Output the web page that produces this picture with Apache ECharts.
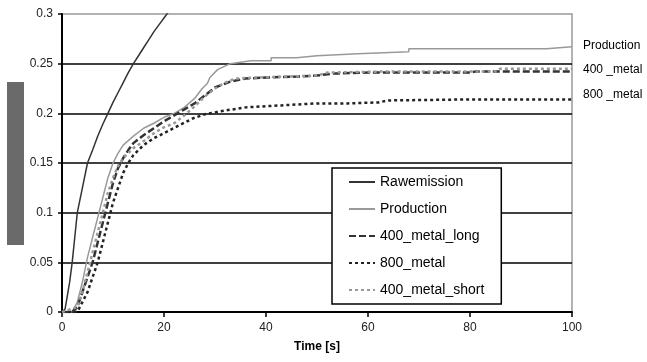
<!DOCTYPE html>
<html>
<head>
<meta charset="utf-8">
<script src="https://cdn.jsdelivr.net/npm/echarts@6/dist/echarts.min.js"></script>
<style>html,body{margin:0;padding:0;background:#fff}#c{width:647px;height:362px}</style>
</head>
<body>
<div id="c"></div>
<script>
// ---- data ----
const seriesNames = ['Rawemission','Production','400_metal_long','800_metal','400_metal_short'];
const xTicks = [0,20,40,60,80,100];
const yTicks = [0,0.05,0.1,0.15,0.2,0.25,0.3];
const endLabels = ['Production','400 _metal','800 _metal'];

const rawT = [0,0.6,1,1.5,2,2.5,3,4,5,6,7,8,9,10,11,12,13,14,15,16,17,18,19,20,21,22];
const rawV = [0,0.003,0.015,0.03,0.05,0.075,0.1,0.125,0.15,0.163,0.177,0.189,0.2,0.211,0.221,0.231,0.241,0.25,0.258,0.266,0.274,0.282,0.289,0.296,0.303,0.31];

const prodT = [0,2,3,4,5,6,7,8,9,10,11,12,14,16,18,20,22,24,26,27.5,28.5,29,30.5,33,37,41,41,46,46,50,50,58,58,68,68,95,95,100];
const prodV = [0,0,0.01,0.03,0.055,0.075,0.095,0.115,0.135,0.15,0.16,0.168,0.177,0.185,0.19,0.196,0.2,0.206,0.215,0.225,0.23,0.236,0.244,0.25,0.253,0.253,0.256,0.256,0.258,0.258,0.26,0.26,0.262,0.262,0.265,0.265,0.267,0.267];

const longT = [0,2,3,4,5,6,7,8,9,10,11,12,13,14,16,18,20,22,24,26,28,30,33,36,40,46,50,53,60,70,80,81,100];
const longV = [0,0,0.005,0.02,0.035,0.05,0.07,0.09,0.11,0.13,0.145,0.155,0.163,0.17,0.178,0.185,0.192,0.198,0.204,0.21,0.218,0.226,0.232,0.235,0.236,0.237,0.238,0.24,0.241,0.241,0.241,0.242,0.242];

const m800T = [0,3,4,5,6,7,8,9,10,11,12,13,14,16,18,20,23,25.7,28,31,36,43,50,56,62,64,80,100];
const m800V = [0,0,0.01,0.02,0.035,0.05,0.07,0.09,0.11,0.125,0.14,0.15,0.158,0.168,0.175,0.18,0.188,0.195,0.199,0.202,0.206,0.208,0.21,0.21,0.211,0.213,0.214,0.214];

const shortT = [0,3,4,5,6,7,8,9,10,11,12,14,16,18,20,22,24,26,28,30,32,34,38,44,50,52,62,85,86,100];
const shortV = [0,0.005,0.02,0.04,0.06,0.08,0.1,0.12,0.135,0.147,0.155,0.165,0.172,0.18,0.186,0.19,0.198,0.207,0.217,0.225,0.231,0.235,0.236,0.237,0.238,0.241,0.242,0.242,0.245,0.245];

// ---- chart ----
const pairs = (t, v) => t.map((x, i) => [x, v[i]]);
const font = 'Liberation Sans, Arial, sans-serif';
const chart = echarts.init(document.getElementById('c'), null, {renderer: 'canvas'});

function line(name, t, v, color, width, dash) {
  return {
    name, type: 'line', data: pairs(t, v), symbol: 'none', clip: true,
    lineStyle: {color, width, type: dash || 'solid'},
    itemStyle: {color}, animation: false
  };
}

chart.setOption({
  animation: false,
  backgroundColor: '#fff',
  grid: {left: 62, right: 75, top: 14, bottom: 50, show: true, borderColor: '#999', borderWidth: 1.5, backgroundColor: 'transparent'},
  xAxis: {
    type: 'value', min: xTicks[0], max: xTicks[xTicks.length - 1], interval: 20,
    name: 'Time [s]', nameLocation: 'middle', nameGap: 29,
    nameTextStyle: {fontFamily: font, fontSize: 12, fontWeight: 'bold', color: '#000'},
    axisLine: {lineStyle: {color: '#000', width: 2}},
    axisTick: {show: true, length: 5, lineStyle: {color: '#000', width: 1.5}},
    axisLabel: {fontFamily: font, fontSize: 12, color: '#222', margin: 10},
    splitLine: {show: false}
  },
  yAxis: {
    type: 'value', min: yTicks[0], max: yTicks[yTicks.length - 1], interval: 0.05,
    axisLine: {show: true, lineStyle: {color: '#000', width: 2}},
    axisTick: {show: true, length: 4, lineStyle: {color: '#000', width: 1.5}},
    axisLabel: {fontFamily: font, fontSize: 12, color: '#222', margin: 9},
    splitLine: {show: true, showMaxLine: false, lineStyle: {color: '#000', width: 1.5}}
  },
  legend: {
    orient: 'vertical', left: 332, top: 168,
    data: seriesNames,
    itemWidth: 26, itemHeight: 14, itemGap: 13,
    padding: [7, 17, 7, 16],
    backgroundColor: '#fff', borderColor: '#000', borderWidth: 1.5,
    itemStyle: {opacity: 0},
    textStyle: {fontFamily: font, fontSize: 14, color: '#000'},
    selectedMode: false
  },
  graphic: [
    {type: 'rect', left: 7, top: 82, shape: {width: 17, height: 163}, style: {fill: '#6a6a6a'}},
    {type: 'text', left: 583, top: 40, style: {text: endLabels[0], font: '12px ' + font, fill: '#000'}},
    {type: 'text', left: 583, top: 64, style: {text: endLabels[1], font: '12px ' + font, fill: '#000'}},
    {type: 'text', left: 583, top: 89, style: {text: endLabels[2], font: '12px ' + font, fill: '#000'}}
  ],
  series: [
    line(seriesNames[0], rawT, rawV, '#333', 1.5),
    line(seriesNames[1], prodT, prodV, '#999', 1.5),
    line(seriesNames[2], longT, longV, '#333', 2.5, [7, 3]),
    line(seriesNames[3], m800T, m800V, '#222', 2.5, [3, 3]),
    line(seriesNames[4], shortT, shortV, '#999', 2.5, [3, 3])
  ]
});
</script>
</body>
</html>
